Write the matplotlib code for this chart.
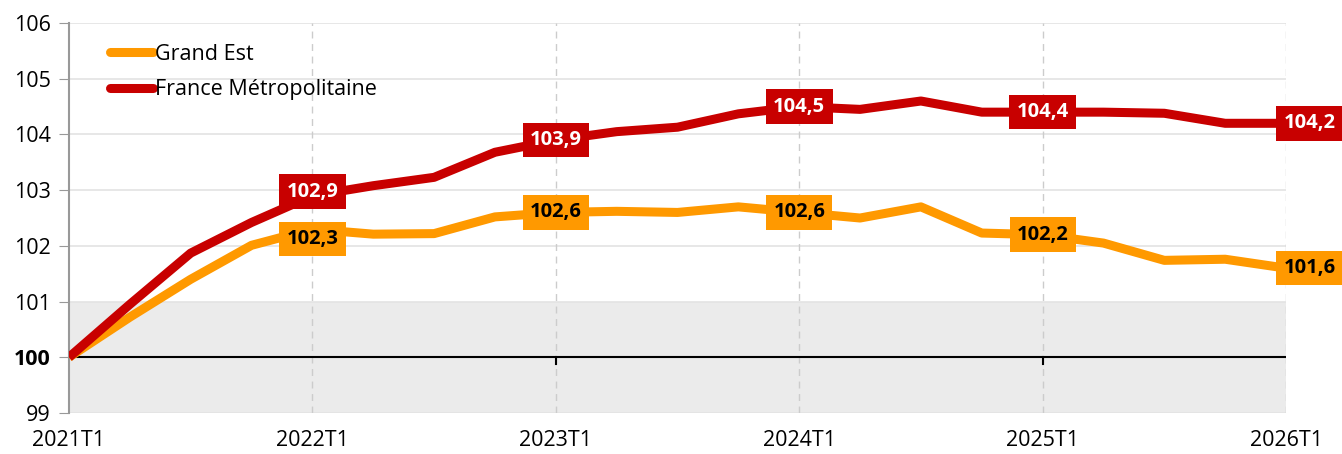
import numpy as np
import matplotlib.pyplot as plt

plt.rcParams['font.family'] = ['Open Sans', 'DejaVu Sans']

quarters = [f"{y}T{q}" for y in range(2021, 2027) for q in range(1, 5)][:21]
grand_est = [100.0, 100.72, 101.4, 102.01, 102.3, 102.21, 102.22, 102.52, 102.6, 102.62, 102.6,
             102.7, 102.6, 102.5, 102.7, 102.23, 102.2, 102.05, 101.74, 101.76, 101.6]
france = [100.0, 100.95, 101.87, 102.42, 102.9, 103.08, 103.23, 103.68, 103.9, 104.05, 104.13,
          104.37, 104.5, 104.45, 104.6, 104.4, 104.4, 104.4, 104.38, 104.2, 104.2]
year_ticks = ["2021T1", "2022T1", "2023T1", "2024T1", "2025T1", "2026T1"]
label_quarters = ["2022T1", "2023T1", "2024T1", "2025T1", "2026T1"]

c_ge = '#ff9900'
c_fr = '#c80000'

fig = plt.figure(figsize=(13.42, 4.54), dpi=100)
ax = fig.add_axes([0.0514, 0.0903, 0.9069, 0.859])

x = np.arange(len(quarters))
ax.axhspan(99, 101, color='#ebebeb', zorder=0, lw=0)
ax.axhline(100, color='black', lw=1.5, zorder=2)

ax.plot(x, grand_est, color=c_ge, lw=6.5, label="Grand Est", zorder=3, solid_capstyle='butt')
ax.plot(x, france, color=c_fr, lw=6.5, label="France Métropolitaine", zorder=3, solid_capstyle='butt')

# value boxes (nudged apart where they would collide)
for q in label_quarters:
    i = quarters.index(q)
    dx = 17 if i == len(quarters) - 1 else 0
    for vals, col, tc, dy in [(grand_est, c_ge, 'black', -7 if q == "2022T1" else 0),
                              (france, c_fr, 'white', 3 if q == "2022T1" else 0)]:
        ax.annotate(f"{vals[i]:.1f}".replace('.', ','), (i, vals[i]), xytext=(dx, dy),
                    textcoords='offset points', ha='center', va='center', fontsize=14.5,
                    fontweight='bold', color=tc, zorder=5, annotation_clip=False,
                    bbox=dict(boxstyle='square,pad=0.36', fc=col, ec='none'))

ticks_pos = [quarters.index(t) for t in year_ticks]
ax.set_xticks(ticks_pos)
ax.set_xticklabels(year_ticks, fontsize=15.5)
ax.tick_params(axis='x', length=0, pad=12)
for p in ticks_pos[1:]:
    ax.axvline(p, color='#cccccc', lw=1, ls=(0, (5, 4)), zorder=1)
# small ticks under the zero line
for t in ["2023T1", "2025T1"]:
    ax.plot([quarters.index(t)] * 2, [100, 99.88], color='black', lw=1.5, zorder=2)

ax.set_ylim(99, 106)
ax.set_xlim(0, len(quarters) - 1)
ax.set_yticks(range(99, 107))
ax.tick_params(axis='y', length=7, color='#999999', labelsize=15.5, pad=6)
for lab in ax.get_yticklabels():
    if lab.get_text() == '100':
        lab.set_fontweight('bold')
ax.grid(axis='y', color='#e3e3e3', lw=1.2, zorder=0)
ax.set_axisbelow(True)

for s in ['top', 'right', 'bottom']:
    ax.spines[s].set_visible(False)
ax.spines['left'].set_color('#999999')
ax.spines['left'].set_linewidth(1.5)

leg = ax.legend(loc='upper left', bbox_to_anchor=(0.018, 0.997), frameon=False, fontsize=15.5,
                handlelength=2.0, handletextpad=0.1, labelspacing=0.68)
for h in leg.get_lines():
    h.set_solid_capstyle('round')

fig.savefig('out.png', dpi=100)
